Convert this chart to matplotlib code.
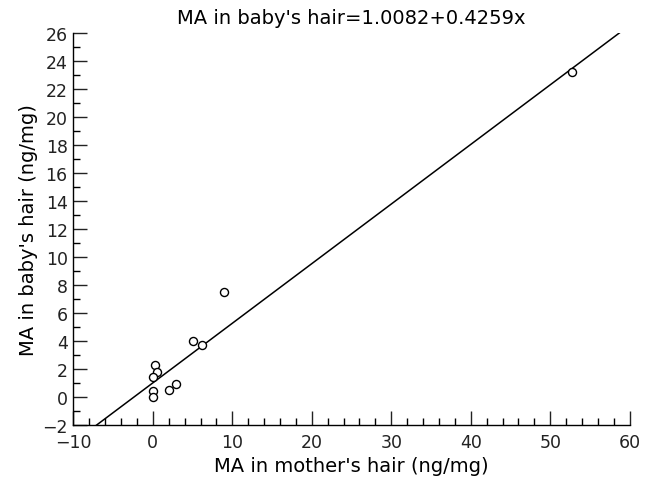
import matplotlib.pyplot as plt
import numpy as np
from matplotlib.ticker import MultipleLocator

# MA concentration, mother vs baby hair (ng/mg)
mother = [52.7, 9.0, 5.0, 6.2, 0.3, 0.5, 0.0, 0.0, 0.0, 2.0, 2.9]
baby = [23.2, 7.5, 4.0, 3.7, 2.3, 1.8, 1.4, 0.4, 0.0, 0.5, 0.9]

intercept = 1.0082
slope = 0.4259
title = "MA in baby's hair=1.0082+0.4259x"

plt.rcParams['font.family'] = ['DejaVu Sans']

fig = plt.figure(figsize=(6.47, 4.81), dpi=100)
ax = fig.add_axes([0.1133, 0.1143, 0.9734 - 0.1133, 0.9293 - 0.1143])

xl = np.array([-10, 60])
ax.plot(xl, intercept + slope * xl, color='black', lw=1.1, zorder=2)
ax.plot(mother, baby, linestyle='none', marker='o', ms=5.8, mfc='white',
        mec='black', mew=1.0, zorder=3)

ax.set_xlim(-10, 60)
ax.set_ylim(-2, 26)
ax.xaxis.set_major_locator(MultipleLocator(10))
ax.xaxis.set_minor_locator(MultipleLocator(2))
ax.yaxis.set_major_locator(MultipleLocator(2))
ax.yaxis.set_minor_locator(MultipleLocator(1))

for s in ['top', 'right']:
    ax.spines[s].set_visible(False)
for s in ['left', 'bottom']:
    ax.spines[s].set_linewidth(1.0)

ax.tick_params(which='major', direction='in', length=10, width=1.0,
               labelsize=12.5, colors='#222222')
ax.tick_params(axis='x', which='major', pad=6)
ax.tick_params(axis='y', which='major', pad=4)
ax.tick_params(which='minor', direction='in', length=5, width=1.0)

ax.set_title(title, fontsize=14, pad=7)
ax.set_xlabel("MA in mother's hair (ng/mg)", fontsize=14, labelpad=3)
ax.set_ylabel("MA in baby's hair (ng/mg)", fontsize=14, labelpad=3)

fig.savefig('out.png', dpi=100)
